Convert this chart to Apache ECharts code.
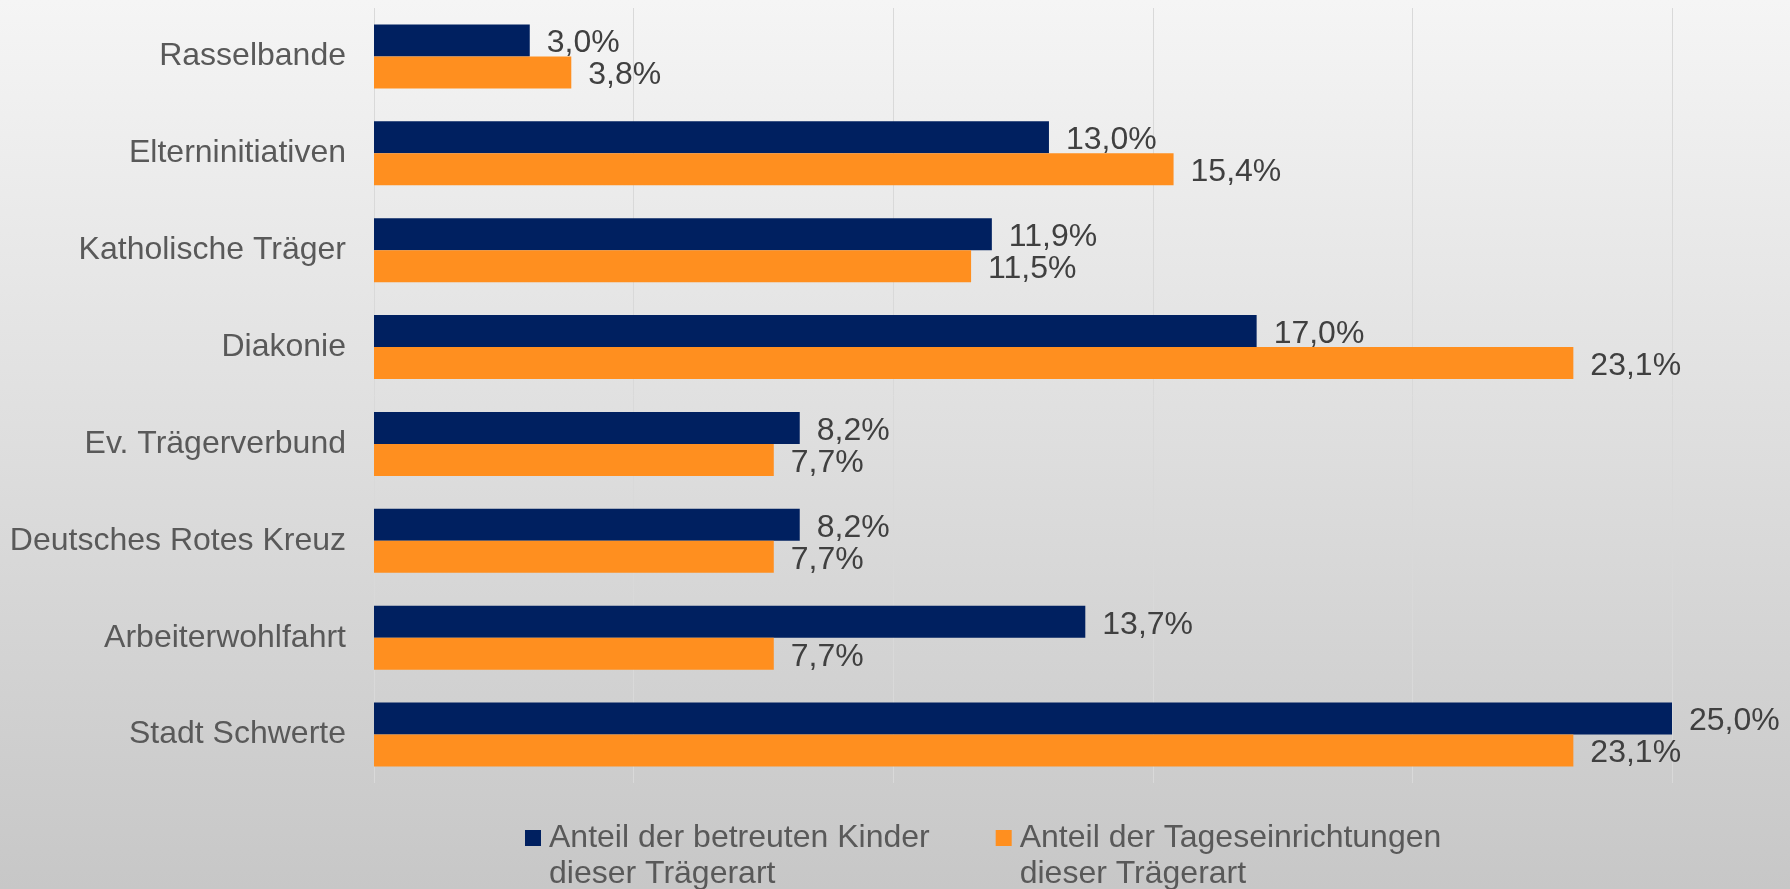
<!DOCTYPE html>
<html>
<head>
<meta charset="utf-8">
<script src="https://cdn.jsdelivr.net/npm/echarts@6/dist/echarts.min.js"></script>
<style>
    html, body { margin: 0; padding: 0; }
    #main {
        width: 1790px;
        height: 889px;
        background: linear-gradient(to bottom, #f5f5f5 0%, #c7c7c7 100%);
    }
</style>
</head>
<body>
<div id="main"></div>
<script>
// Träger (von oben nach unten)
var categories = ['Rasselbande', 'Elterninitiativen', 'Katholische Träger', 'Diakonie',
    'Ev. Trägerverbund', 'Deutsches Rotes Kreuz', 'Arbeiterwohlfahrt', 'Stadt Schwerte'];
var seriesNames = ['Anteil der betreuten Kinder\ndieser Trägerart',
    'Anteil der Tageseinrichtungen\ndieser Trägerart'];
var kinder = [3.0, 13.0, 11.9, 17.0, 8.2, 8.2, 13.7, 25.0];
var einrichtungen = [3.8, 15.4, 11.5, 23.1, 7.7, 7.7, 7.7, 23.1];

var myChart = echarts.init(document.getElementById('main'));
var font = 'Liberation Sans, Arial, sans-serif';

function pct(p) {
    return p.value.toFixed(1).replace('.', ',') + '%';
}

var labelStyle = {
    show: true,
    position: 'right',
    distance: 17,
    offset: [0, 3],
    formatter: pct,
    color: '#404040',
    fontSize: 32,
    fontFamily: font
};

var option = {
    animation: false,
    backgroundColor: 'transparent',
    grid: {left: 374, right: 118, top: 8, bottom: 106},
    legend: {
        left: 525,
        top: 784,
        padding: 0,
        itemGap: 66,
        itemWidth: 16,
        itemHeight: 16,
        icon: 'rect',
        data: seriesNames,
        // leere erste Zeile, damit das Symbol auf Höhe der ersten Textzeile steht
        formatter: function (name) {
            return ' \n' + name;
        },
        textStyle: {
            color: '#595959',
            fontSize: 32,
            fontFamily: font,
            lineHeight: 36,
            padding: [0, 0, 0, 3]
        }
    },
    xAxis: {
        type: 'value',
        min: 0,
        max: 25,
        interval: 5,
        axisLabel: {show: false},
        axisLine: {show: false},
        axisTick: {show: false},
        splitLine: {show: true, lineStyle: {color: '#d9d9d9', width: 1}}
    },
    yAxis: {
        type: 'category',
        inverse: true,
        data: categories,
        axisLine: {show: false},
        axisTick: {show: false},
        axisLabel: {
            margin: 28,
            color: '#595959',
            fontSize: 32,
            fontFamily: font
        }
    },
    series: [
        {
            name: seriesNames[0],
            type: 'bar',
            data: kinder,
            barGap: '0%',
            barCategoryGap: '34%',
            itemStyle: {color: '#002060'},
            label: labelStyle
        },
        {
            name: seriesNames[1],
            type: 'bar',
            data: einrichtungen,
            barGap: '0%',
            barCategoryGap: '34%',
            itemStyle: {color: '#ff8f1f'},
            label: labelStyle
        }
    ]
};

myChart.setOption(option);
</script>
</body>
</html>
